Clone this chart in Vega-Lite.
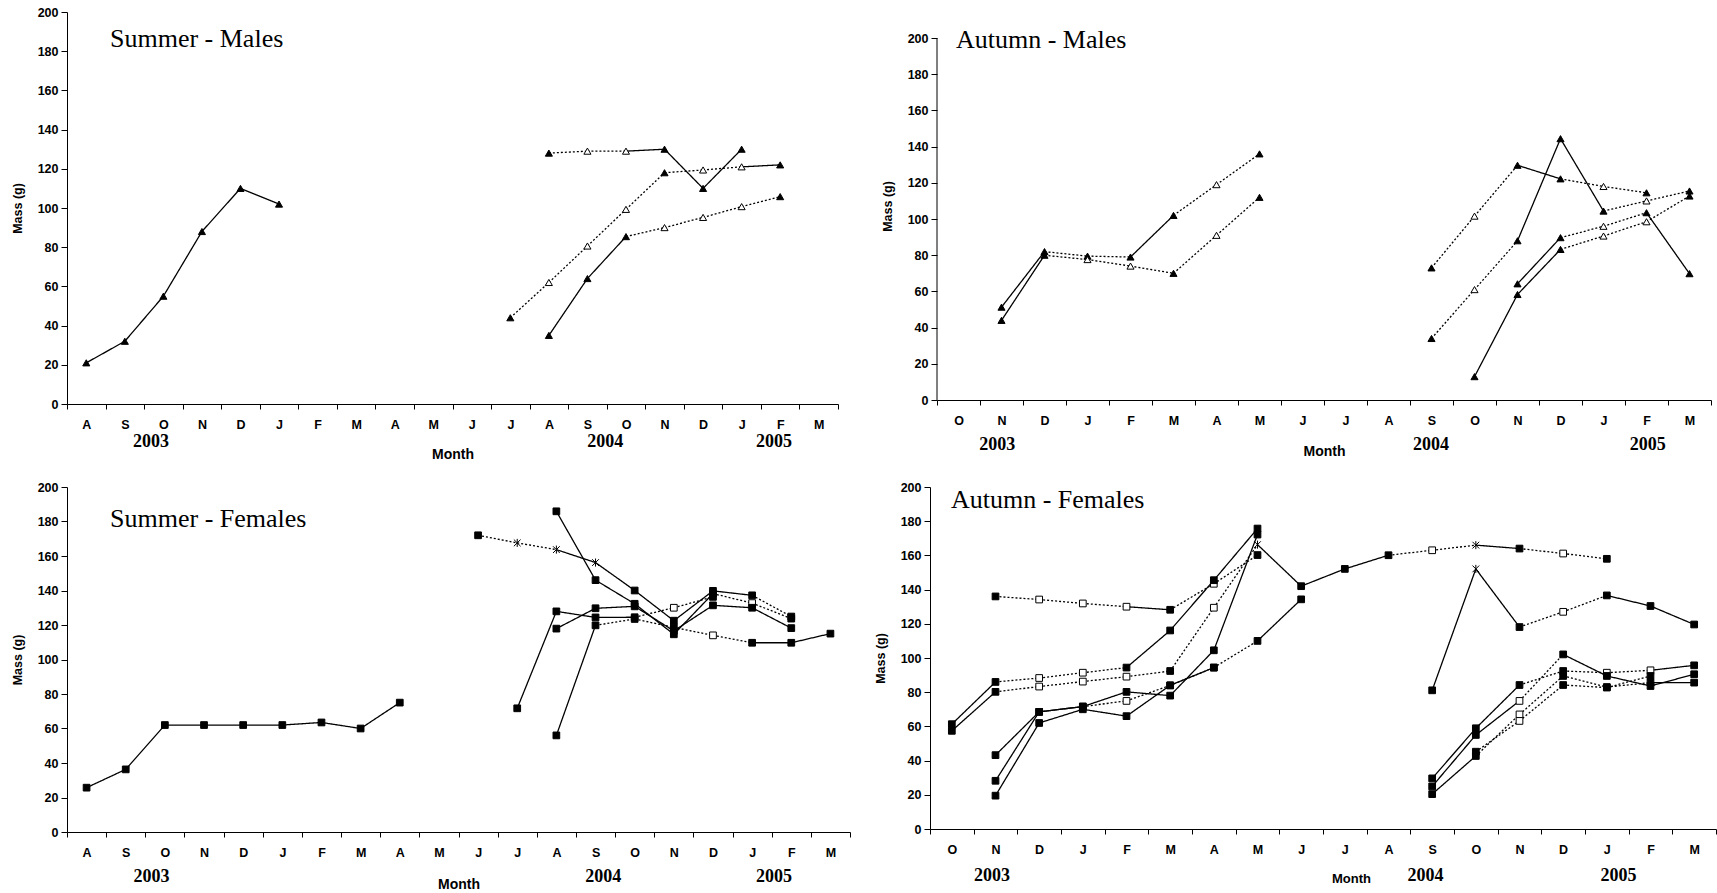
{
"$schema": "https://vega.github.io/schema/vega-lite/v6.json",
"background": "white",
"padding": {"left": 11, "top": 6, "right": 0, "bottom": 0},
"datasets": {
"rows": [
{"p":"SM","s":1,"i":0,"v":21,"k":"ft","d":"s"},{"p":"SM","s":1,"i":1,"v":32,"k":"ft","d":"s"},{"p":"SM","s":1,"i":2,"v":55,"k":"ft","d":"s"},{"p":"SM","s":1,"i":3,"v":88,"k":"ft","d":"s"},{"p":"SM","s":1,"i":4,"v":110,"k":"ft","d":"s"},{"p":"SM","s":1,"i":5,"v":102,"k":"ft","d":"s"},
{"p":"SM","s":2,"i":11,"v":44,"k":"ft","d":"s"},{"p":"SM","s":2,"i":12,"v":62,"k":"ot","d":"d"},{"p":"SM","s":2,"i":13,"v":80.6,"k":"ot","d":"d"},{"p":"SM","s":2,"i":14,"v":99.3,"k":"ot","d":"d"},{"p":"SM","s":2,"i":15,"v":118,"k":"ft","d":"d"},{"p":"SM","s":2,"i":16,"v":119.4,"k":"ot","d":"d"},{"p":"SM","s":2,"i":17,"v":121,"k":"ot","d":"d"},{"p":"SM","s":2,"i":18,"v":122,"k":"ft","d":"s"},
{"p":"SM","s":3,"i":12,"v":128,"k":"ft","d":"s"},{"p":"SM","s":3,"i":13,"v":129,"k":"ot","d":"d"},{"p":"SM","s":3,"i":14,"v":129,"k":"ot","d":"d"},{"p":"SM","s":3,"i":15,"v":130,"k":"ft","d":"s"},{"p":"SM","s":3,"i":16,"v":110,"k":"ft","d":"s"},{"p":"SM","s":3,"i":17,"v":130,"k":"ft","d":"s"},
{"p":"SM","s":4,"i":12,"v":35,"k":"ft","d":"s"},{"p":"SM","s":4,"i":13,"v":64,"k":"ft","d":"s"},{"p":"SM","s":4,"i":14,"v":85.4,"k":"ft","d":"s"},{"p":"SM","s":4,"i":15,"v":90,"k":"ot","d":"d"},{"p":"SM","s":4,"i":16,"v":95.2,"k":"ot","d":"d"},{"p":"SM","s":4,"i":17,"v":100.7,"k":"ot","d":"d"},{"p":"SM","s":4,"i":18,"v":105.8,"k":"ft","d":"d"},

{"p":"AM","s":11,"i":1,"v":51.3,"k":"ft","d":"s"},{"p":"AM","s":11,"i":2,"v":82,"k":"ft","d":"s"},{"p":"AM","s":11,"i":3,"v":79.5,"k":"ft","d":"d"},{"p":"AM","s":11,"i":4,"v":79,"k":"ft","d":"d"},{"p":"AM","s":11,"i":5,"v":102,"k":"ft","d":"s"},{"p":"AM","s":11,"i":6,"v":119,"k":"ot","d":"d"},{"p":"AM","s":11,"i":7,"v":136,"k":"ft","d":"d"},
{"p":"AM","s":12,"i":1,"v":44,"k":"ft","d":"s"},{"p":"AM","s":12,"i":2,"v":80,"k":"ft","d":"s"},{"p":"AM","s":12,"i":3,"v":77.6,"k":"ot","d":"d"},{"p":"AM","s":12,"i":4,"v":74,"k":"ot","d":"d"},{"p":"AM","s":12,"i":5,"v":70,"k":"ft","d":"d"},{"p":"AM","s":12,"i":6,"v":91,"k":"ot","d":"d"},{"p":"AM","s":12,"i":7,"v":112,"k":"ft","d":"d"},
{"p":"AM","s":13,"i":11,"v":73,"k":"ft","d":"s"},{"p":"AM","s":13,"i":12,"v":101.6,"k":"ot","d":"d"},{"p":"AM","s":13,"i":13,"v":129.7,"k":"ft","d":"d"},{"p":"AM","s":13,"i":14,"v":122.2,"k":"ft","d":"s"},{"p":"AM","s":13,"i":15,"v":118,"k":"ot","d":"d"},{"p":"AM","s":13,"i":16,"v":114.5,"k":"ft","d":"d"},
{"p":"AM","s":14,"i":11,"v":34,"k":"ft","d":"s"},{"p":"AM","s":14,"i":12,"v":61,"k":"ot","d":"d"},{"p":"AM","s":14,"i":13,"v":88,"k":"ft","d":"d"},{"p":"AM","s":14,"i":14,"v":144.4,"k":"ft","d":"s"},{"p":"AM","s":14,"i":15,"v":104.4,"k":"ft","d":"s"},{"p":"AM","s":14,"i":16,"v":110,"k":"ot","d":"d"},{"p":"AM","s":14,"i":17,"v":115.5,"k":"ft","d":"d"},
{"p":"AM","s":15,"i":12,"v":12.9,"k":"ft","d":"s"},{"p":"AM","s":15,"i":13,"v":58.3,"k":"ft","d":"s"},{"p":"AM","s":15,"i":14,"v":83.2,"k":"ft","d":"s"},{"p":"AM","s":15,"i":15,"v":90.6,"k":"ot","d":"d"},{"p":"AM","s":15,"i":16,"v":98.5,"k":"ot","d":"d"},{"p":"AM","s":15,"i":17,"v":112.7,"k":"ft","d":"d"},
{"p":"AM","s":16,"i":13,"v":64.2,"k":"ft","d":"s"},{"p":"AM","s":16,"i":14,"v":89.7,"k":"ft","d":"s"},{"p":"AM","s":16,"i":15,"v":96,"k":"ot","d":"d"},{"p":"AM","s":16,"i":16,"v":103.5,"k":"ft","d":"d"},{"p":"AM","s":16,"i":17,"v":69.8,"k":"ft","d":"s"},

{"p":"SF","s":21,"i":0,"v":25.7,"k":"fs","d":"s"},{"p":"SF","s":21,"i":1,"v":36.3,"k":"fs","d":"s"},{"p":"SF","s":21,"i":2,"v":62,"k":"fs","d":"s"},{"p":"SF","s":21,"i":3,"v":62,"k":"fs","d":"s"},{"p":"SF","s":21,"i":4,"v":62,"k":"fs","d":"s"},{"p":"SF","s":21,"i":5,"v":62,"k":"fs","d":"s"},{"p":"SF","s":21,"i":6,"v":63.5,"k":"fs","d":"s"},{"p":"SF","s":21,"i":7,"v":60,"k":"fs","d":"s"},{"p":"SF","s":21,"i":8,"v":75,"k":"fs","d":"s"},
{"p":"SF","s":22,"i":10,"v":172,"k":"fs","d":"s"},{"p":"SF","s":22,"i":11,"v":167.6,"k":"st","d":"d"},{"p":"SF","s":22,"i":12,"v":163.7,"k":"st","d":"d"},{"p":"SF","s":22,"i":13,"v":156.2,"k":"st","d":"s"},{"p":"SF","s":22,"i":14,"v":140,"k":"fs","d":"s"},{"p":"SF","s":22,"i":15,"v":122.5,"k":"fs","d":"s"},{"p":"SF","s":22,"i":16,"v":139.8,"k":"fs","d":"s"},{"p":"SF","s":22,"i":17,"v":137.2,"k":"fs","d":"s"},{"p":"SF","s":22,"i":18,"v":124.9,"k":"fs","d":"d"},
{"p":"SF","s":23,"i":12,"v":185.9,"k":"fs","d":"s"},{"p":"SF","s":23,"i":13,"v":146,"k":"fs","d":"s"},{"p":"SF","s":23,"i":14,"v":132.3,"k":"fs","d":"s"},{"p":"SF","s":23,"i":15,"v":114.6,"k":"fs","d":"s"},{"p":"SF","s":23,"i":16,"v":138.2,"k":"fs","d":"s"},{"p":"SF","s":23,"i":17,"v":132.7,"k":"os","d":"d"},{"p":"SF","s":23,"i":18,"v":123.7,"k":"fs","d":"d"},
{"p":"SF","s":24,"i":12,"v":117.9,"k":"fs","d":"s"},{"p":"SF","s":24,"i":13,"v":129.7,"k":"fs","d":"s"},{"p":"SF","s":24,"i":14,"v":130.8,"k":"fs","d":"s"},{"p":"SF","s":24,"i":15,"v":116.6,"k":"fs","d":"s"},{"p":"SF","s":24,"i":16,"v":131.4,"k":"fs","d":"s"},{"p":"SF","s":24,"i":17,"v":130,"k":"fs","d":"s"},{"p":"SF","s":24,"i":18,"v":118.2,"k":"fs","d":"s"},
{"p":"SF","s":25,"i":11,"v":71.7,"k":"fs","d":"s"},{"p":"SF","s":25,"i":12,"v":127.9,"k":"fs","d":"s"},{"p":"SF","s":25,"i":13,"v":124.4,"k":"fs","d":"s"},{"p":"SF","s":25,"i":14,"v":124.5,"k":"fs","d":"s"},{"p":"SF","s":25,"i":15,"v":130,"k":"os","d":"d"},{"p":"SF","s":25,"i":16,"v":136.3,"k":"fs","d":"d"},
{"p":"SF","s":26,"i":12,"v":56,"k":"fs","d":"s"},{"p":"SF","s":26,"i":13,"v":119.8,"k":"fs","d":"s"},{"p":"SF","s":26,"i":14,"v":123.5,"k":"fs","d":"d"},{"p":"SF","s":26,"i":15,"v":118.6,"k":"fs","d":"d"},{"p":"SF","s":26,"i":16,"v":114,"k":"os","d":"d"},{"p":"SF","s":26,"i":17,"v":109.7,"k":"fs","d":"d"},{"p":"SF","s":26,"i":18,"v":109.7,"k":"fs","d":"s"},{"p":"SF","s":26,"i":19,"v":115,"k":"fs","d":"s"},

{"p":"AF","s":31,"i":1,"v":136,"k":"fs","d":"s"},{"p":"AF","s":31,"i":2,"v":134.2,"k":"os","d":"d"},{"p":"AF","s":31,"i":3,"v":131.9,"k":"os","d":"d"},{"p":"AF","s":31,"i":4,"v":130,"k":"os","d":"d"},{"p":"AF","s":31,"i":5,"v":128.2,"k":"fs","d":"s"},{"p":"AF","s":31,"i":6,"v":143.4,"k":"os","d":"d"},{"p":"AF","s":31,"i":7,"v":160.2,"k":"fs","d":"d"},
{"p":"AF","s":32,"i":0,"v":61.3,"k":"fs","d":"s"},{"p":"AF","s":32,"i":1,"v":86,"k":"fs","d":"s"},{"p":"AF","s":32,"i":2,"v":88.3,"k":"os","d":"d"},{"p":"AF","s":32,"i":3,"v":91.4,"k":"os","d":"d"},{"p":"AF","s":32,"i":4,"v":94.4,"k":"fs","d":"d"},{"p":"AF","s":32,"i":5,"v":116.1,"k":"fs","d":"s"},{"p":"AF","s":32,"i":6,"v":145.5,"k":"fs","d":"s"},{"p":"AF","s":32,"i":7,"v":175.7,"k":"fs","d":"s"},
{"p":"AF","s":33,"i":0,"v":57.4,"k":"fs","d":"s"},{"p":"AF","s":33,"i":1,"v":80.2,"k":"fs","d":"s"},{"p":"AF","s":33,"i":2,"v":83.3,"k":"os","d":"d"},{"p":"AF","s":33,"i":3,"v":86.2,"k":"os","d":"d"},{"p":"AF","s":33,"i":4,"v":89.1,"k":"os","d":"d"},{"p":"AF","s":33,"i":5,"v":92.4,"k":"fs","d":"d"},{"p":"AF","s":33,"i":6,"v":129.4,"k":"os","d":"d"},{"p":"AF","s":33,"i":7,"v":166.3,"k":"st","d":"d"},{"p":"AF","s":33,"i":8,"v":142,"k":"fs","d":"s"},{"p":"AF","s":33,"i":9,"v":152.1,"k":"fs","d":"s"},{"p":"AF","s":33,"i":10,"v":160.1,"k":"fs","d":"s"},{"p":"AF","s":33,"i":11,"v":163,"k":"os","d":"d"},{"p":"AF","s":33,"i":12,"v":166,"k":"st","d":"d"},{"p":"AF","s":33,"i":13,"v":164,"k":"fs","d":"s"},{"p":"AF","s":33,"i":14,"v":161.1,"k":"os","d":"d"},{"p":"AF","s":33,"i":15,"v":158,"k":"fs","d":"d"},
{"p":"AF","s":34,"i":1,"v":43.2,"k":"fs","d":"s"},{"p":"AF","s":34,"i":2,"v":68.5,"k":"fs","d":"s"},{"p":"AF","s":34,"i":3,"v":71.6,"k":"fs","d":"s"},{"p":"AF","s":34,"i":4,"v":80.2,"k":"fs","d":"s"},{"p":"AF","s":34,"i":5,"v":78,"k":"fs","d":"s"},{"p":"AF","s":34,"i":6,"v":104.5,"k":"fs","d":"s"},{"p":"AF","s":34,"i":7,"v":172.2,"k":"fs","d":"s"},
{"p":"AF","s":35,"i":1,"v":28.2,"k":"fs","d":"s"},{"p":"AF","s":35,"i":2,"v":68.5,"k":"fs","d":"s"},{"p":"AF","s":35,"i":3,"v":71.6,"k":"fs","d":"s"},{"p":"AF","s":35,"i":4,"v":74.9,"k":"os","d":"d"},{"p":"AF","s":35,"i":5,"v":84,"k":"fs","d":"d"},{"p":"AF","s":35,"i":6,"v":94.4,"k":"fs","d":"d"},{"p":"AF","s":35,"i":7,"v":110,"k":"fs","d":"d"},{"p":"AF","s":35,"i":8,"v":134.3,"k":"fs","d":"s"},
{"p":"AF","s":36,"i":1,"v":19.5,"k":"fs","d":"s"},{"p":"AF","s":36,"i":2,"v":62,"k":"fs","d":"s"},{"p":"AF","s":36,"i":3,"v":70,"k":"fs","d":"s"},{"p":"AF","s":36,"i":4,"v":66,"k":"fs","d":"s"},{"p":"AF","s":36,"i":5,"v":84,"k":"fs","d":"s"},{"p":"AF","s":36,"i":6,"v":94.4,"k":"fs","d":"s"},
{"p":"AF","s":37,"i":11,"v":81.1,"k":"fs","d":"s"},{"p":"AF","s":37,"i":12,"v":152.1,"k":"st","d":"s"},{"p":"AF","s":37,"i":13,"v":118.1,"k":"fs","d":"s"},{"p":"AF","s":37,"i":14,"v":127,"k":"os","d":"d"},{"p":"AF","s":37,"i":15,"v":136.6,"k":"fs","d":"d"},{"p":"AF","s":37,"i":16,"v":130.4,"k":"fs","d":"s"},{"p":"AF","s":37,"i":17,"v":119.6,"k":"fs","d":"s"},
{"p":"AF","s":38,"i":11,"v":29.6,"k":"fs","d":"s"},{"p":"AF","s":38,"i":12,"v":58.9,"k":"fs","d":"s"},{"p":"AF","s":38,"i":13,"v":84.2,"k":"fs","d":"s"},{"p":"AF","s":38,"i":14,"v":92.4,"k":"fs","d":"d"},{"p":"AF","s":38,"i":15,"v":91.4,"k":"os","d":"d"},{"p":"AF","s":38,"i":16,"v":92.8,"k":"os","d":"d"},{"p":"AF","s":38,"i":17,"v":95.7,"k":"fs","d":"s"},
{"p":"AF","s":39,"i":11,"v":24.9,"k":"fs","d":"s"},{"p":"AF","s":39,"i":12,"v":55,"k":"fs","d":"s"},{"p":"AF","s":39,"i":13,"v":74.9,"k":"os","d":"s"},{"p":"AF","s":39,"i":14,"v":102.1,"k":"fs","d":"d"},{"p":"AF","s":39,"i":15,"v":89.5,"k":"fs","d":"s"},{"p":"AF","s":39,"i":16,"v":83.6,"k":"fs","d":"s"},{"p":"AF","s":39,"i":17,"v":90.5,"k":"fs","d":"s"},
{"p":"AF","s":40,"i":11,"v":20.4,"k":"fs","d":"s"},{"p":"AF","s":40,"i":12,"v":42.7,"k":"fs","d":"s"},{"p":"AF","s":40,"i":13,"v":67,"k":"os","d":"d"},{"p":"AF","s":40,"i":14,"v":89.5,"k":"fs","d":"d"},{"p":"AF","s":40,"i":15,"v":83,"k":"fs","d":"d"},{"p":"AF","s":40,"i":16,"v":85.6,"k":"fs","d":"d"},{"p":"AF","s":40,"i":17,"v":85.6,"k":"fs","d":"s"},
{"p":"AF","s":41,"i":12,"v":45.2,"k":"fs","d":"s"},{"p":"AF","s":41,"i":13,"v":63.2,"k":"os","d":"d"},{"p":"AF","s":41,"i":14,"v":84.2,"k":"fs","d":"d"},{"p":"AF","s":41,"i":15,"v":82.7,"k":"fs","d":"d"},{"p":"AF","s":41,"i":16,"v":89.5,"k":"fs","d":"d"}
],
"yrs": [
{"p":"SM","t":"2003","i":1.68},{"p":"SM","t":"2004","i":13.46},{"p":"SM","t":"2005","i":17.84},
{"p":"AM","t":"2003","i":0.9},{"p":"AM","t":"2004","i":10.99},{"p":"AM","t":"2005","i":16.03},
{"p":"SF","t":"2003","i":1.66},{"p":"SF","t":"2004","i":13.2},{"p":"SF","t":"2005","i":17.56},
{"p":"AF","t":"2003","i":0.92},{"p":"AF","t":"2004","i":10.85},{"p":"AF","t":"2005","i":15.27}
]
},
"config": {
"view": {"stroke": null},
"axis": {"grid": false, "domainColor": "black", "tickColor": "black", "labelColor": "black", "titleColor": "black", "labelFont": "Liberation Sans", "titleFont": "Liberation Sans", "labelFontWeight": "bold", "titleFontWeight": "bold", "domainWidth": 1, "tickWidth": 1, "labelFontSize": 12.5, "labelOverlap": false}
},
"spacing": 19,
"vconcat": [
{"spacing": 23, "hconcat": [
{"width": 771, "height": 392, "layer": [
{"data": {"name": "rows"}, "transform": [{"filter": "datum.p == 'SM'"}, {"window": [{"op": "lag", "field": "i", "as": "pi"}, {"op": "lag", "field": "v", "as": "pv"}], "groupby": ["s"], "sort": [{"field": "i", "order": "ascending"}]}, {"filter": "datum.pi != null"}],
 "mark": {"type": "rule", "color": "black", "strokeWidth": 1.3},
 "encoding": {"x": {"field": "pi", "type": "quantitative", "scale": {"domain": [-0.5, 19.5], "nice": false, "zero": false}, "title": "Month"}, "x2": {"field": "i"}, "y": {"field": "pv", "type": "quantitative", "scale": {"domain": [0, 200], "nice": false, "zero": false}, "title": "Mass (g)"}, "y2": {"field": "v"},
  "strokeDash": {"field": "d", "type": "nominal", "scale": {"domain": ["s", "d"], "range": [[1, 0], [2, 2]]}, "legend": null}}},
{"data": {"name": "rows"}, "transform": [{"filter": "datum.p == 'SM'"}],
 "mark": {"type": "point", "filled": true, "stroke": "black", "strokeWidth": 1, "size": 50, "opacity": 1},
 "encoding": {"x": {"field": "i", "type": "quantitative", "scale": {"domain": [-0.5, 19.5], "nice": false, "zero": false},
   "axis": {"values": [-0.5,0.5,1.5,2.5,3.5,4.5,5.5,6.5,7.5,8.5,9.5,10.5,11.5,12.5,13.5,14.5,15.5,16.5,17.5,18.5,19.5], "tickCount": 40, "labelExpr": "['A','S','O','N','D','J','F','M','A','M','J','J','A','S','O','N','D','J','F','M',''][round(datum.value+0.5)]", "labelOffset": 19.3, "labelFlush": false, "labelOverlap": false, "tickSize": 5, "labelPadding": 9, "title": "Month", "titleFontSize": 14, "titlePadding": 17}},
  "y": {"field": "v", "type": "quantitative", "scale": {"domain": [0, 200], "nice": false, "zero": false},
   "axis": {"values": [0,20,40,60,80,100,120,140,160,180,200], "tickCount": 30, "labelOverlap": false, "tickSize": 6, "labelPadding": 3, "title": "Mass (g)", "titleFontSize": 12.5, "titlePadding": 13}},
  "shape": {"field": "k", "type": "nominal", "scale": {"domain": ["ft","ot","fs","os","st"], "range": ["triangle-up","triangle-up","square","square","M-1,-1L1,1M-1,1L1,-1M0,-1.2L0,1.2"]}, "legend": null},
  "fill": {"field": "k", "type": "nominal", "scale": {"domain": ["ft","ot","fs","os","st"], "range": ["#000000","#ffffff","#000000","#ffffff","transparent"]}, "legend": null}}},
{"data": {"values": [{}]}, "mark": {"type": "text", "text": "Summer - Males", "font": "Liberation Serif", "fontSize": 26, "align": "left", "baseline": "alphabetic", "color": "black"},
 "encoding": {"x": {"datum": 0.615, "type": "quantitative"}, "y": {"datum": 182.1, "type": "quantitative"}}},
{"data": {"name": "yrs"}, "transform": [{"filter": "datum.p == 'SM'"}], "mark": {"type": "text", "font": "Liberation Serif", "fontWeight": "bold", "fontSize": 18, "align": "center", "baseline": "middle", "color": "black"},
 "encoding": {"x": {"field": "i", "type": "quantitative"}, "y": {"datum": -19.4, "type": "quantitative"}, "text": {"field": "t"}}}
]},
{"width": 774, "height": 388, "layer": [
{"data": {"values": [{}]}, "mark": {"type": "rule", "color": "black", "strokeWidth": 1},
 "encoding": {"x": {"datum": -0.5, "type": "quantitative"}, "y": {"datum": 0, "type": "quantitative"}, "y2": {"datum": 200}}},
{"data": {"name": "rows"}, "transform": [{"filter": "datum.p == 'AM'"}, {"window": [{"op": "lag", "field": "i", "as": "pi"}, {"op": "lag", "field": "v", "as": "pv"}], "groupby": ["s"], "sort": [{"field": "i", "order": "ascending"}]}, {"filter": "datum.pi != null"}],
 "mark": {"type": "rule", "color": "black", "strokeWidth": 1.3},
 "encoding": {"x": {"field": "pi", "type": "quantitative", "scale": {"domain": [-0.5, 17.5], "nice": false, "zero": false}, "title": "Month"}, "x2": {"field": "i"}, "y": {"field": "pv", "type": "quantitative", "scale": {"domain": [0, 214.4], "nice": false, "zero": false}, "title": "Mass (g)"}, "y2": {"field": "v"},
  "strokeDash": {"field": "d", "type": "nominal", "scale": {"domain": ["s", "d"], "range": [[1, 0], [2, 2]]}, "legend": null}}},
{"data": {"name": "rows"}, "transform": [{"filter": "datum.p == 'AM'"}],
 "mark": {"type": "point", "filled": true, "stroke": "black", "strokeWidth": 1, "size": 50, "opacity": 1},
 "encoding": {"x": {"field": "i", "type": "quantitative", "scale": {"domain": [-0.5, 17.5], "nice": false, "zero": false},
   "axis": {"values": [-0.5,0.5,1.5,2.5,3.5,4.5,5.5,6.5,7.5,8.5,9.5,10.5,11.5,12.5,13.5,14.5,15.5,16.5,17.5], "tickCount": 40, "labelExpr": "['O','N','D','J','F','M','A','M','J','J','A','S','O','N','D','J','F','M',''][round(datum.value+0.5)]", "labelOffset": 21.5, "labelFlush": false, "labelOverlap": false, "tickSize": 5, "labelPadding": 9, "title": "Month", "titleFontSize": 14, "titlePadding": 18}},
  "y": {"field": "v", "type": "quantitative", "scale": {"domain": [0, 214.4], "nice": false, "zero": false},
   "axis": {"values": [0,20,40,60,80,100,120,140,160,180,200], "tickCount": 30, "labelOverlap": false, "domain": false, "tickSize": 6, "labelPadding": 3, "title": "Mass (g)", "titleFontSize": 12.5, "titlePadding": 13}},
  "shape": {"field": "k", "type": "nominal", "scale": {"domain": ["ft","ot","fs","os","st"], "range": ["triangle-up","triangle-up","square","square","M-1,-1L1,1M-1,1L1,-1M0,-1.2L0,1.2"]}, "legend": null},
  "fill": {"field": "k", "type": "nominal", "scale": {"domain": ["ft","ot","fs","os","st"], "range": ["#000000","#ffffff","#000000","#ffffff","transparent"]}, "legend": null}}},
{"data": {"values": [{}]}, "mark": {"type": "text", "text": "Autumn - Males", "font": "Liberation Serif", "fontSize": 26, "align": "left", "baseline": "alphabetic", "color": "black"},
 "encoding": {"x": {"datum": -0.06, "type": "quantitative"}, "y": {"datum": 194.5, "type": "quantitative"}}},
{"data": {"name": "yrs"}, "transform": [{"filter": "datum.p == 'AM'"}], "mark": {"type": "text", "font": "Liberation Serif", "fontWeight": "bold", "fontSize": 18, "align": "center", "baseline": "middle", "color": "black"},
 "encoding": {"x": {"field": "i", "type": "quantitative"}, "y": {"datum": -25, "type": "quantitative"}, "text": {"field": "t"}}}
]}
]},
{"spacing": 4, "hconcat": [
{"width": 783, "height": 345, "layer": [
{"data": {"name": "rows"}, "transform": [{"filter": "datum.p == 'SF'"}, {"window": [{"op": "lag", "field": "i", "as": "pi"}, {"op": "lag", "field": "v", "as": "pv"}], "groupby": ["s"], "sort": [{"field": "i", "order": "ascending"}]}, {"filter": "datum.pi != null"}],
 "mark": {"type": "rule", "color": "black", "strokeWidth": 1.3},
 "encoding": {"x": {"field": "pi", "type": "quantitative", "scale": {"domain": [-0.5, 19.5], "nice": false, "zero": false}, "title": "Month"}, "x2": {"field": "i"}, "y": {"field": "pv", "type": "quantitative", "scale": {"domain": [0, 200], "nice": false, "zero": false}, "title": "Mass (g)"}, "y2": {"field": "v"},
  "strokeDash": {"field": "d", "type": "nominal", "scale": {"domain": ["s", "d"], "range": [[1, 0], [2, 2]]}, "legend": null}}},
{"data": {"name": "rows"}, "transform": [{"filter": "datum.p == 'SF'"}],
 "mark": {"type": "point", "filled": true, "stroke": "black", "strokeWidth": 1, "size": 45, "opacity": 1},
 "encoding": {"x": {"field": "i", "type": "quantitative", "scale": {"domain": [-0.5, 19.5], "nice": false, "zero": false},
   "axis": {"values": [-0.5,0.5,1.5,2.5,3.5,4.5,5.5,6.5,7.5,8.5,9.5,10.5,11.5,12.5,13.5,14.5,15.5,16.5,17.5,18.5,19.5], "tickCount": 40, "labelExpr": "['A','S','O','N','D','J','F','M','A','M','J','J','A','S','O','N','D','J','F','M',''][round(datum.value+0.5)]", "labelOffset": 19.6, "labelFlush": false, "labelOverlap": false, "tickSize": 5, "labelPadding": 9, "title": "Month", "titleFontSize": 14, "titlePadding": 19}},
  "y": {"field": "v", "type": "quantitative", "scale": {"domain": [0, 200], "nice": false, "zero": false},
   "axis": {"values": [0,20,40,60,80,100,120,140,160,180,200], "tickCount": 30, "labelOverlap": false, "tickSize": 6, "labelPadding": 3, "title": "Mass (g)", "titleFontSize": 12.5, "titlePadding": 13}},
  "shape": {"field": "k", "type": "nominal", "scale": {"domain": ["ft","ot","fs","os","st"], "range": ["triangle-up","triangle-up","square","square","M-1,-1L1,1M-1,1L1,-1M0,-1.2L0,1.2"]}, "legend": null},
  "fill": {"field": "k", "type": "nominal", "scale": {"domain": ["ft","ot","fs","os","st"], "range": ["#000000","#ffffff","#000000","#ffffff","transparent"]}, "legend": null}}},
{"data": {"values": [{}]}, "mark": {"type": "text", "text": "Summer - Females", "font": "Liberation Serif", "fontSize": 26, "align": "left", "baseline": "alphabetic", "color": "black"},
 "encoding": {"x": {"datum": 0.6, "type": "quantitative"}, "y": {"datum": 177, "type": "quantitative"}}},
{"data": {"name": "yrs"}, "transform": [{"filter": "datum.p == 'SF'"}], "mark": {"type": "text", "font": "Liberation Serif", "fontWeight": "bold", "fontSize": 18, "align": "center", "baseline": "middle", "color": "black"},
 "encoding": {"x": {"field": "i", "type": "quantitative"}, "y": {"datum": -25.8, "type": "quantitative"}, "text": {"field": "t"}}}
]},
{"width": 786, "height": 342, "layer": [
{"data": {"name": "rows"}, "transform": [{"filter": "datum.p == 'AF'"}, {"window": [{"op": "lag", "field": "i", "as": "pi"}, {"op": "lag", "field": "v", "as": "pv"}], "groupby": ["s"], "sort": [{"field": "i", "order": "ascending"}]}, {"filter": "datum.pi != null"}],
 "mark": {"type": "rule", "color": "black", "strokeWidth": 1.3},
 "encoding": {"x": {"field": "pi", "type": "quantitative", "scale": {"domain": [-0.5, 17.5], "nice": false, "zero": false}, "title": "Month"}, "x2": {"field": "i"}, "y": {"field": "pv", "type": "quantitative", "scale": {"domain": [0, 200], "nice": false, "zero": false}, "title": "Mass (g)"}, "y2": {"field": "v"},
  "strokeDash": {"field": "d", "type": "nominal", "scale": {"domain": ["s", "d"], "range": [[1, 0], [2, 2]]}, "legend": null}}},
{"data": {"name": "rows"}, "transform": [{"filter": "datum.p == 'AF'"}],
 "mark": {"type": "point", "filled": true, "stroke": "black", "strokeWidth": 1, "size": 45, "opacity": 1},
 "encoding": {"x": {"field": "i", "type": "quantitative", "scale": {"domain": [-0.5, 17.5], "nice": false, "zero": false},
   "axis": {"values": [-0.5,0.5,1.5,2.5,3.5,4.5,5.5,6.5,7.5,8.5,9.5,10.5,11.5,12.5,13.5,14.5,15.5,16.5,17.5], "tickCount": 40, "labelExpr": "['O','N','D','J','F','M','A','M','J','J','A','S','O','N','D','J','F','M',''][round(datum.value+0.5)]", "labelOffset": 21.8, "labelFlush": false, "labelOverlap": false, "tickSize": 5, "labelPadding": 9, "title": "Month", "titleFontSize": 13, "titlePadding": 17, "titleX": 421}},
  "y": {"field": "v", "type": "quantitative", "scale": {"domain": [0, 200], "nice": false, "zero": false},
   "axis": {"values": [0,20,40,60,80,100,120,140,160,180,200], "tickCount": 30, "labelOverlap": false, "tickSize": 6, "labelPadding": 3, "title": "Mass (g)", "titleFontSize": 12.5, "titlePadding": 13}},
  "shape": {"field": "k", "type": "nominal", "scale": {"domain": ["ft","ot","fs","os","st"], "range": ["triangle-up","triangle-up","square","square","M-1,-1L1,1M-1,1L1,-1M0,-1.2L0,1.2"]}, "legend": null},
  "fill": {"field": "k", "type": "nominal", "scale": {"domain": ["ft","ot","fs","os","st"], "range": ["#000000","#ffffff","#000000","#ffffff","transparent"]}, "legend": null}}},
{"data": {"values": [{}]}, "mark": {"type": "text", "text": "Autumn - Females", "font": "Liberation Serif", "fontSize": 26, "align": "left", "baseline": "alphabetic", "color": "black"},
 "encoding": {"x": {"datum": -0.02, "type": "quantitative"}, "y": {"datum": 188, "type": "quantitative"}}},
{"data": {"name": "yrs"}, "transform": [{"filter": "datum.p == 'AF'"}], "mark": {"type": "text", "font": "Liberation Serif", "fontWeight": "bold", "fontSize": 18, "align": "center", "baseline": "middle", "color": "black"},
 "encoding": {"x": {"field": "i", "type": "quantitative"}, "y": {"datum": -27.5, "type": "quantitative"}, "text": {"field": "t"}}}
]}
]}
]
}
